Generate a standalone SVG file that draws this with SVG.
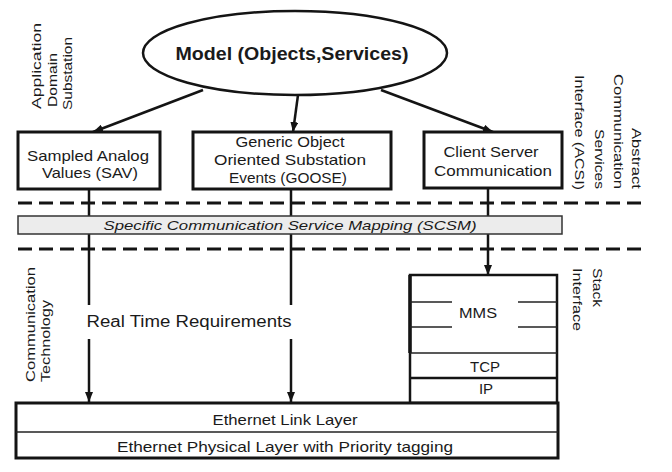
<svg xmlns="http://www.w3.org/2000/svg" width="672" height="472" viewBox="0 0 672 472">
<defs>
<style>
text{font-family:"Liberation Sans",Arial,sans-serif;fill:#1a1a1a;}
.t15{font-size:15px;}
.t13{font-size:13px;}
.box{fill:#ffffff;stroke:#141414;stroke-width:3;}
.thin{stroke:#222;stroke-width:1.5;fill:none;}
.dash{stroke:#141414;stroke-width:3;stroke-dasharray:14 7;fill:none;}
.conn{stroke:#141414;stroke-width:2.5;fill:none;}
</style>
<marker id="ah" markerWidth="10" markerHeight="8" refX="10" refY="4" orient="auto" markerUnits="userSpaceOnUse">
<path d="M0,0 L10,4 L0,8 Z" fill="#141414"/>
</marker>
</defs>
<rect width="672" height="472" fill="#ffffff"/>

<!-- side labels -->
<g id="label-application">
<text class="t13" transform="translate(41,109) rotate(-90)" textLength="86" lengthAdjust="spacingAndGlyphs">Application</text>
<text class="t13" transform="translate(57,107) rotate(-90)" textLength="54" lengthAdjust="spacingAndGlyphs">Domain</text>
<text class="t13" transform="translate(72,110) rotate(-90)" textLength="73" lengthAdjust="spacingAndGlyphs">Substation</text>
</g>
<g id="label-acsi">
<text class="t13" text-anchor="end" transform="translate(632,189) rotate(90)" textLength="61" lengthAdjust="spacingAndGlyphs">Abstract</text>
<text class="t13" text-anchor="end" transform="translate(614,189) rotate(90)" textLength="115" lengthAdjust="spacingAndGlyphs">Communication</text>
<text class="t13" text-anchor="end" transform="translate(595,189) rotate(90)" textLength="60" lengthAdjust="spacingAndGlyphs">Services</text>
<text class="t13" text-anchor="end" transform="translate(575,190) rotate(90)" textLength="115" lengthAdjust="spacingAndGlyphs">Interface (ACSI)</text>
</g>
<g id="label-commtech">
<text class="t13" transform="translate(35,382) rotate(-90)" textLength="115" lengthAdjust="spacingAndGlyphs">Communication</text>
<text class="t13" transform="translate(50,382) rotate(-90)" textLength="82" lengthAdjust="spacingAndGlyphs">Technology</text>
</g>
<g id="label-stack">
<text class="t13" transform="translate(593,268) rotate(90)" textLength="39" lengthAdjust="spacingAndGlyphs">Stack</text>
<text class="t13" transform="translate(573,268) rotate(90)" textLength="63" lengthAdjust="spacingAndGlyphs">Interface</text>
</g>

<!-- dashed separators -->
<line class="dash" x1="18" y1="203" x2="647" y2="203"/>
<line class="dash" x1="18" y1="249" x2="647" y2="249"/>

<!-- connectors -->
<g id="connectors">
<line class="conn" x1="203" y1="90" x2="93" y2="132" marker-end="url(#ah)"/>
<line class="conn" x1="298" y1="95" x2="293" y2="132" marker-end="url(#ah)"/>
<line class="conn" x1="381" y1="90" x2="493" y2="132" marker-end="url(#ah)"/>
<line class="conn" x1="89" y1="190" x2="89" y2="305"/>
<line class="conn" x1="89" y1="339" x2="89" y2="402" marker-end="url(#ah)"/>
<line class="conn" x1="291" y1="190" x2="291" y2="305"/>
<line class="conn" x1="291" y1="339" x2="291" y2="402" marker-end="url(#ah)"/>
<line class="conn" x1="488" y1="189" x2="488" y2="275" marker-end="url(#ah)"/>
</g>

<g id="scsm">
<rect x="18" y="216" width="544" height="18" fill="#ececec" stroke="#333" stroke-width="1.5"/>
<text class="t13" x="290" y="230" text-anchor="middle" font-style="italic" textLength="373" lengthAdjust="spacingAndGlyphs">Specific Communication Service Mapping (SCSM)</text>
</g>

<g id="model">
<ellipse cx="295" cy="53" rx="152" ry="42" fill="#ffffff" stroke="#141414" stroke-width="2.5"/>
<text x="292" y="60" text-anchor="middle" font-size="18" font-weight="bold" textLength="233" lengthAdjust="spacingAndGlyphs">Model (Objects,Services)</text>
</g>

<g id="sav">
<rect class="box" x="18" y="132" width="142" height="57"/>
<text class="t15" x="88" y="161" text-anchor="middle" textLength="122" lengthAdjust="spacingAndGlyphs">Sampled Analog</text>
<text class="t15" x="90" y="178" text-anchor="middle" textLength="96" lengthAdjust="spacingAndGlyphs">Values (SAV)</text>
</g>

<g id="goose">
<rect class="box" x="193" y="132" width="198" height="57"/>
<text class="t15" x="290" y="147" text-anchor="middle" textLength="109" lengthAdjust="spacingAndGlyphs">Generic Object</text>
<text class="t15" x="290" y="165" text-anchor="middle" textLength="152" lengthAdjust="spacingAndGlyphs">Oriented Substation</text>
<text class="t15" x="288" y="183" text-anchor="middle" textLength="118" lengthAdjust="spacingAndGlyphs">Events (GOOSE)</text>
</g>

<g id="client-server">
<rect class="box" x="424" y="132" width="138" height="56"/>
<text class="t15" x="491" y="157" text-anchor="middle" textLength="95" lengthAdjust="spacingAndGlyphs">Client Server</text>
<text class="t15" x="493" y="176" text-anchor="middle" textLength="118" lengthAdjust="spacingAndGlyphs">Communication</text>
</g>

<g id="realtime">
<text x="189" y="327" text-anchor="middle" font-size="16" textLength="205" lengthAdjust="spacingAndGlyphs">Real Time Requirements</text>
</g>

<g id="stack">
<rect x="410" y="275" width="147" height="128" fill="#ffffff" stroke="#141414" stroke-width="2.5"/>
<line x1="410" y1="275" x2="410" y2="353" stroke="#141414" stroke-width="3.5"/>
<line class="thin" x1="410" y1="302" x2="452" y2="302"/>
<line class="thin" x1="518" y1="302" x2="557" y2="302"/>
<line class="thin" x1="410" y1="327" x2="452" y2="327"/>
<line class="thin" x1="518" y1="327" x2="557" y2="327"/>
<text class="t15" x="478" y="318" text-anchor="middle" textLength="38" lengthAdjust="spacingAndGlyphs">MMS</text>
<line class="thin" x1="410" y1="353" x2="557" y2="353"/>
<text class="t15" x="485" y="372" text-anchor="middle" textLength="30" lengthAdjust="spacingAndGlyphs">TCP</text>
<line x1="410" y1="378" x2="557" y2="378" stroke="#141414" stroke-width="2.5"/>
<text class="t15" x="486" y="394" text-anchor="middle">IP</text>
</g>

<g id="ethernet">
<rect class="box" x="16" y="403" width="542" height="55"/>
<line class="thin" x1="16" y1="432" x2="558" y2="432"/>
<text class="t15" x="285" y="425" text-anchor="middle" textLength="145" lengthAdjust="spacingAndGlyphs">Ethernet Link Layer</text>
<text class="t15" x="285" y="452" text-anchor="middle" textLength="336" lengthAdjust="spacingAndGlyphs">Ethernet Physical Layer with Priority tagging</text>
</g>
</svg>
